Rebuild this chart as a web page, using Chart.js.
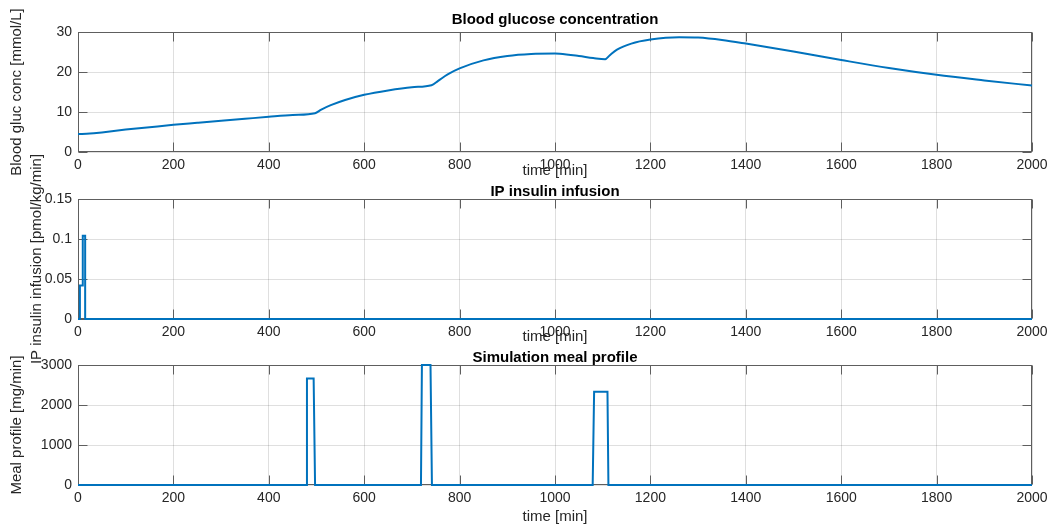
<!DOCTYPE html>
<html>
<head>
<meta charset="utf-8">
<title>Simulation results</title>
<script src="https://cdn.jsdelivr.net/npm/chart.js@4.4.1/dist/chart.umd.min.js"></script>
<style>
  html, body { margin: 0; padding: 0; background: #ffffff; }
  #wrap { position: relative; width: 1050px; height: 529px; overflow: hidden; }
  #wrap canvas { position: absolute; left: 0; top: 0; }
</style>
</head>
<body>
<div id="wrap">
  <canvas id="cGlucose" width="1050" height="529"></canvas>
  <canvas id="cInsulin" width="1050" height="529"></canvas>
  <canvas id="cMeal" width="1050" height="529"></canvas>
</div>
<script>
// ---- simulation output ----
const glucoseTime = [0, 25, 50, 100, 150, 200, 250, 300, 350, 400, 450, 497,
  510, 530, 560, 600, 650, 700, 741, 755, 775, 800, 850, 900, 950, 1000, 1010,
  1050, 1080, 1105, 1115, 1130, 1160, 1200, 1260, 1300, 1350, 1400, 1500, 1600,
  1700, 1800, 1900, 2000];
const glucoseConc = [4.5, 4.6, 4.9, 5.6, 6.2, 6.8, 7.3, 7.8, 8.3, 8.8, 9.25, 9.7,
  10.6, 11.7, 13.0, 14.3, 15.4, 16.2, 16.7, 17.8, 19.4, 20.9, 22.9, 24.0, 24.5, 24.6, 24.55,
  24.0, 23.5, 23.2, 24.2, 25.6, 27.1, 28.1, 28.7, 28.6, 28.0, 27.1, 25.1, 23.0,
  21.0, 19.3, 17.9, 16.6];

const insulinTime = [0, 4, 4, 10, 10, 15, 15, 2000];
const insulinRate = [0, 0, 0.042, 0.042, 0.104, 0.104, 0, 0];

const mealTime = [0, 478, 480, 494, 497, 719, 721, 739, 742, 1079, 1082, 1110, 1112, 2000];
const mealRate = [0, 0, 2660, 2660, 0, 0, 3000, 3000, 0, 0, 2330, 2330, 0, 0];

// ---- axis ticks ----
const timeTicks = [0, 200, 400, 600, 800, 1000, 1200, 1400, 1600, 1800, 2000];
const glucoseTicks = [0, 10, 20, 30];
const insulinTicks = [0, 0.05, 0.1, 0.15];
const mealTicks = [0, 1000, 2000, 3000];

const FONT = "'Liberation Sans', Arial, Helvetica, sans-serif";
const TEXT_COLOR = '#262626';
const BOX_COLOR = '#5e5e5e';
const LINE_COLOR = '#0072BD';
const TICK_LEN = 9;
const X_AXIS_H = 20;

Chart.defaults.font.family = FONT;
Chart.defaults.color = TEXT_COLOR;

const toXY = (xs, ys) => xs.map((x, i) => ({ x: x, y: ys[i] }));

// box, inward tick marks and axis texts in MATLAB style
const axesDecor = {
  id: 'axesDecor',
  beforeDatasetsDraw(chart, args, opts) {
    const { ctx, chartArea: a, scales } = chart;
    const L = Math.round(a.left) + 0.5, R = Math.round(a.right) - 0.5;
    const T = Math.round(a.top) + 0.5, B = Math.round(a.bottom) - 0.5;
    ctx.save();
    ctx.strokeStyle = BOX_COLOR;
    ctx.lineWidth = 1;
    ctx.beginPath();
    scales.x.ticks.forEach(t => {
      const px = Math.round(scales.x.getPixelForValue(t.value)) + 0.5;
      ctx.moveTo(px, B); ctx.lineTo(px, B - TICK_LEN);
      ctx.moveTo(px, T); ctx.lineTo(px, T + TICK_LEN);
    });
    scales.y.ticks.forEach(t => {
      const py = Math.round(scales.y.getPixelForValue(t.value)) + 0.5;
      ctx.moveTo(L, py); ctx.lineTo(L + TICK_LEN, py);
      ctx.moveTo(R, py); ctx.lineTo(R - TICK_LEN, py);
    });
    ctx.stroke();
    ctx.strokeRect(L, T, R - L, B - T);
    ctx.restore();
  },
  afterDraw(chart, args, opts) {
    const { ctx, chartArea: a } = chart;
    const cx = (a.left + a.right) / 2;
    ctx.save();
    ctx.textAlign = 'center';
    ctx.textBaseline = 'middle';
    ctx.fillStyle = '#000000';
    ctx.font = 'bold 15px ' + FONT;
    ctx.fillText(opts.title, cx, opts.titleY);
    ctx.fillStyle = TEXT_COLOR;
    ctx.font = '15px ' + FONT;
    ctx.fillText(opts.xLabel, cx, opts.xLabelY);
    ctx.translate(opts.yLabelX, (a.top + a.bottom) / 2);
    ctx.rotate(-Math.PI / 2);
    ctx.fillText(opts.yLabel, 0, 0);
    ctx.restore();
  }
};

function makePanel(canvasId, xs, ys, yTicks, yFmt, smooth, area, text) {
  return new Chart(document.getElementById(canvasId), {
    type: 'line',
    data: {
      datasets: [{
        data: toXY(xs, ys),
        borderColor: LINE_COLOR,
        borderWidth: 2,
        pointRadius: 0,
        fill: false,
        clip: 3,
        tension: smooth ? 0.4 : 0,
        cubicInterpolationMode: smooth ? 'monotone' : 'default'
      }]
    },
    options: {
      responsive: false,
      animation: false,
      devicePixelRatio: 1,
      layout: { padding: { left: 0, right: 1050 - area.right, top: area.top, bottom: 529 - area.bottom - X_AXIS_H } },
      plugins: {
        legend: { display: false },
        tooltip: { enabled: false },
        axesDecor: text
      },
      scales: {
        x: {
          type: 'linear',
          min: timeTicks[0],
          max: timeTicks[timeTicks.length - 1],
          afterFit: s => { s.height = X_AXIS_H; s.paddingLeft = 0; s.paddingRight = 0; },
          afterBuildTicks: s => { s.ticks = timeTicks.map(v => ({ value: v })); },
          grid: { color: 'rgba(38,38,38,0.15)', drawTicks: false },
          border: { display: false },
          ticks: {
            autoSkip: false, maxRotation: 0, padding: 5,
            color: TEXT_COLOR, font: { size: 14 },
            callback: v => String(v)
          }
        },
        y: {
          type: 'linear',
          min: yTicks[0],
          max: yTicks[yTicks.length - 1],
          afterFit: s => { s.width = area.left; s.paddingTop = 0; s.paddingBottom = 0; },
          afterBuildTicks: s => { s.ticks = yTicks.map(v => ({ value: v })); },
          grid: { color: 'rgba(38,38,38,0.15)', drawTicks: false },
          border: { display: false },
          ticks: {
            padding: 6, color: TEXT_COLOR, font: { size: 14 },
            callback: yFmt
          }
        }
      }
    },
    plugins: [axesDecor]
  });
}

const plain = v => String(Number(v.toFixed(3)));

makePanel('cGlucose', glucoseTime, glucoseConc, glucoseTicks, plain, true,
  { left: 78, right: 1032, top: 32, bottom: 152 },
  { title: 'Blood glucose concentration', titleY: 20, xLabel: 'time [min]', xLabelY: 171,
    yLabel: 'Blood gluc conc [mmol/L]', yLabelX: 17 });

makePanel('cInsulin', insulinTime, insulinRate, insulinTicks, plain, false,
  { left: 78, right: 1032, top: 199, bottom: 319 },
  { title: 'IP insulin infusion', titleY: 192, xLabel: 'time [min]', xLabelY: 337,
    yLabel: 'IP insulin infusion [pmol/kg/min]', yLabelX: 37 });

makePanel('cMeal', mealTime, mealRate, mealTicks, plain, false,
  { left: 78, right: 1032, top: 365, bottom: 485 },
  { title: 'Simulation meal profile', titleY: 358, xLabel: 'time [min]', xLabelY: 517,
    yLabel: 'Meal profile [mg/min]', yLabelX: 17 });
</script>
</body>
</html>
